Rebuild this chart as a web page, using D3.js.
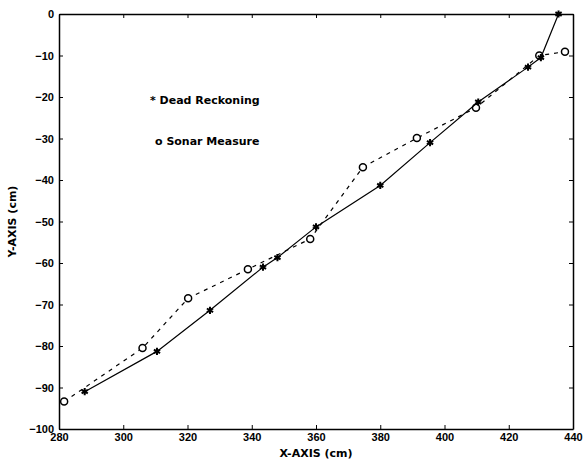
<!DOCTYPE html>
<html>
<head>
<meta charset="utf-8">
<script src="https://cdn.jsdelivr.net/npm/d3@7"></script>
<style>
  body { margin: 0; background: #fff; }
  svg { display: block; font-family: "DejaVu Sans", sans-serif; }
  .axis text { font-size: 11px; font-weight: bold; fill: #000; }
  .axis path, .axis line { stroke: #000; }
</style>
</head>
<body>
<div id="chart"></div>
<script>
// dead reckoning track (cm)
var dead_x = [288, 310.5, 327, 343.5, 348, 360, 380, 395.5, 410.5, 426, 430, 435.5]
var dead_y = [-91, -81.3, -71.4, -61, -58.7, -51.3, -41.3, -31, -21.2, -12.8, -10.5, 0]

// sonar measures (cm)
var sonar_x = [281.6, 306, 320.2, 338.8, 358.2, 374.6, 391.4, 409.8, 429.5, 437.5]
var sonar_y = [-93.4, -80.5, -68.5, -61.5, -54.2, -36.9, -29.9, -22.6, -10, -9.1]

var x_ticks = [280, 300, 320, 340, 360, 380, 400, 420, 440]
var y_ticks = [0, -10, -20, -30, -40, -50, -60, -70, -80, -90, -100]

var legend_labels = ["* Dead Reckoning", "o Sonar Measure"]

var W = 583, H = 466
var margin = {top: 14, right: 10, bottom: 37, left: 59}

var svg = d3.select("#chart").append("svg")
    .attr("width", W)
    .attr("height", H)

var x = d3.scaleLinear().domain([280, 440]).range([margin.left, W - margin.right])
var y = d3.scaleLinear().domain([-100, 0]).range([H - margin.bottom, margin.top])

var dead = dead_x.map(function(d, i){ return [d, dead_y[i]] })
var sonar = sonar_x.map(function(d, i){ return [d, sonar_y[i]] })

var line = d3.line()
    .x(function(d){ return x(d[0]) })
    .y(function(d){ return y(d[1]) })

// axes, ticks pointing inward on all four sides
svg.append("g")
    .attr("class", "axis")
    .attr("transform", "translate(0," + y(-100) + ")")
    .call(d3.axisBottom(x).tickValues(x_ticks).tickSizeInner(-4).tickSizeOuter(0).tickPadding(4))

svg.append("g")
    .attr("class", "axis")
    .attr("transform", "translate(" + x(280) + ",0)")
    .call(d3.axisLeft(y).tickValues(y_ticks).tickSizeInner(-4).tickSizeOuter(0).tickPadding(5))

svg.append("g")
    .attr("class", "axis")
    .attr("transform", "translate(0," + y(0) + ")")
    .call(d3.axisTop(x).tickValues(x_ticks).tickSizeInner(-4).tickSizeOuter(0).tickFormat(""))

svg.append("g")
    .attr("class", "axis")
    .attr("transform", "translate(" + x(440) + ",0)")
    .call(d3.axisRight(y).tickValues(y_ticks).tickSizeInner(-4).tickSizeOuter(0).tickFormat(""))

svg.selectAll(".axis .domain").attr("stroke-width", 1.5)

// sonar: dashed line + open circles
svg.append("path")
    .datum(sonar)
    .attr("d", line)
    .attr("fill", "none")
    .attr("stroke", "#000")
    .attr("stroke-width", 1.2)
    .attr("stroke-dasharray", "4,5")

svg.selectAll(".sonar")
    .data(sonar)
    .enter().append("circle")
    .attr("class", "sonar")
    .attr("cx", function(d){ return x(d[0]) })
    .attr("cy", function(d){ return y(d[1]) })
    .attr("r", 3.5)
    .attr("fill", "#fff")
    .attr("stroke", "#000")
    .attr("stroke-width", 1.5)

// dead reckoning: solid line + asterisks
svg.append("path")
    .datum(dead)
    .attr("d", line)
    .attr("fill", "none")
    .attr("stroke", "#000")
    .attr("stroke-width", 1.2)

svg.selectAll(".dead")
    .data(dead)
    .enter().append("path")
    .attr("class", "dead")
    .attr("transform", function(d){ return "translate(" + x(d[0]) + "," + y(d[1]) + ")" })
    .attr("d", d3.symbol(d3.symbolAsterisk, 36))
    .attr("fill", "none")
    .attr("stroke", "#000")
    .attr("stroke-width", 2)

// legend
svg.selectAll(".legend")
    .data(legend_labels)
    .enter().append("text")
    .attr("class", "legend")
    .attr("x", function(d, i){ return i == 0 ? 150 : 155 })
    .attr("y", function(d, i){ return 104 + i * 41 })
    .style("font-size", "11px")
    .style("font-weight", "bold")
    .text(function(d){ return d })

// axis titles
svg.append("text")
    .attr("x", (x(280) + x(440)) / 2)
    .attr("y", 457)
    .attr("text-anchor", "middle")
    .style("font-size", "11px")
    .style("font-weight", "bold")
    .text("X-AXIS (cm)")

svg.append("text")
    .attr("transform", "translate(16," + (y(-50)) + ") rotate(-90)")
    .attr("text-anchor", "middle")
    .style("font-size", "11px")
    .style("font-weight", "bold")
    .text("Y-AXIS (cm)")
</script>
</body>
</html>
